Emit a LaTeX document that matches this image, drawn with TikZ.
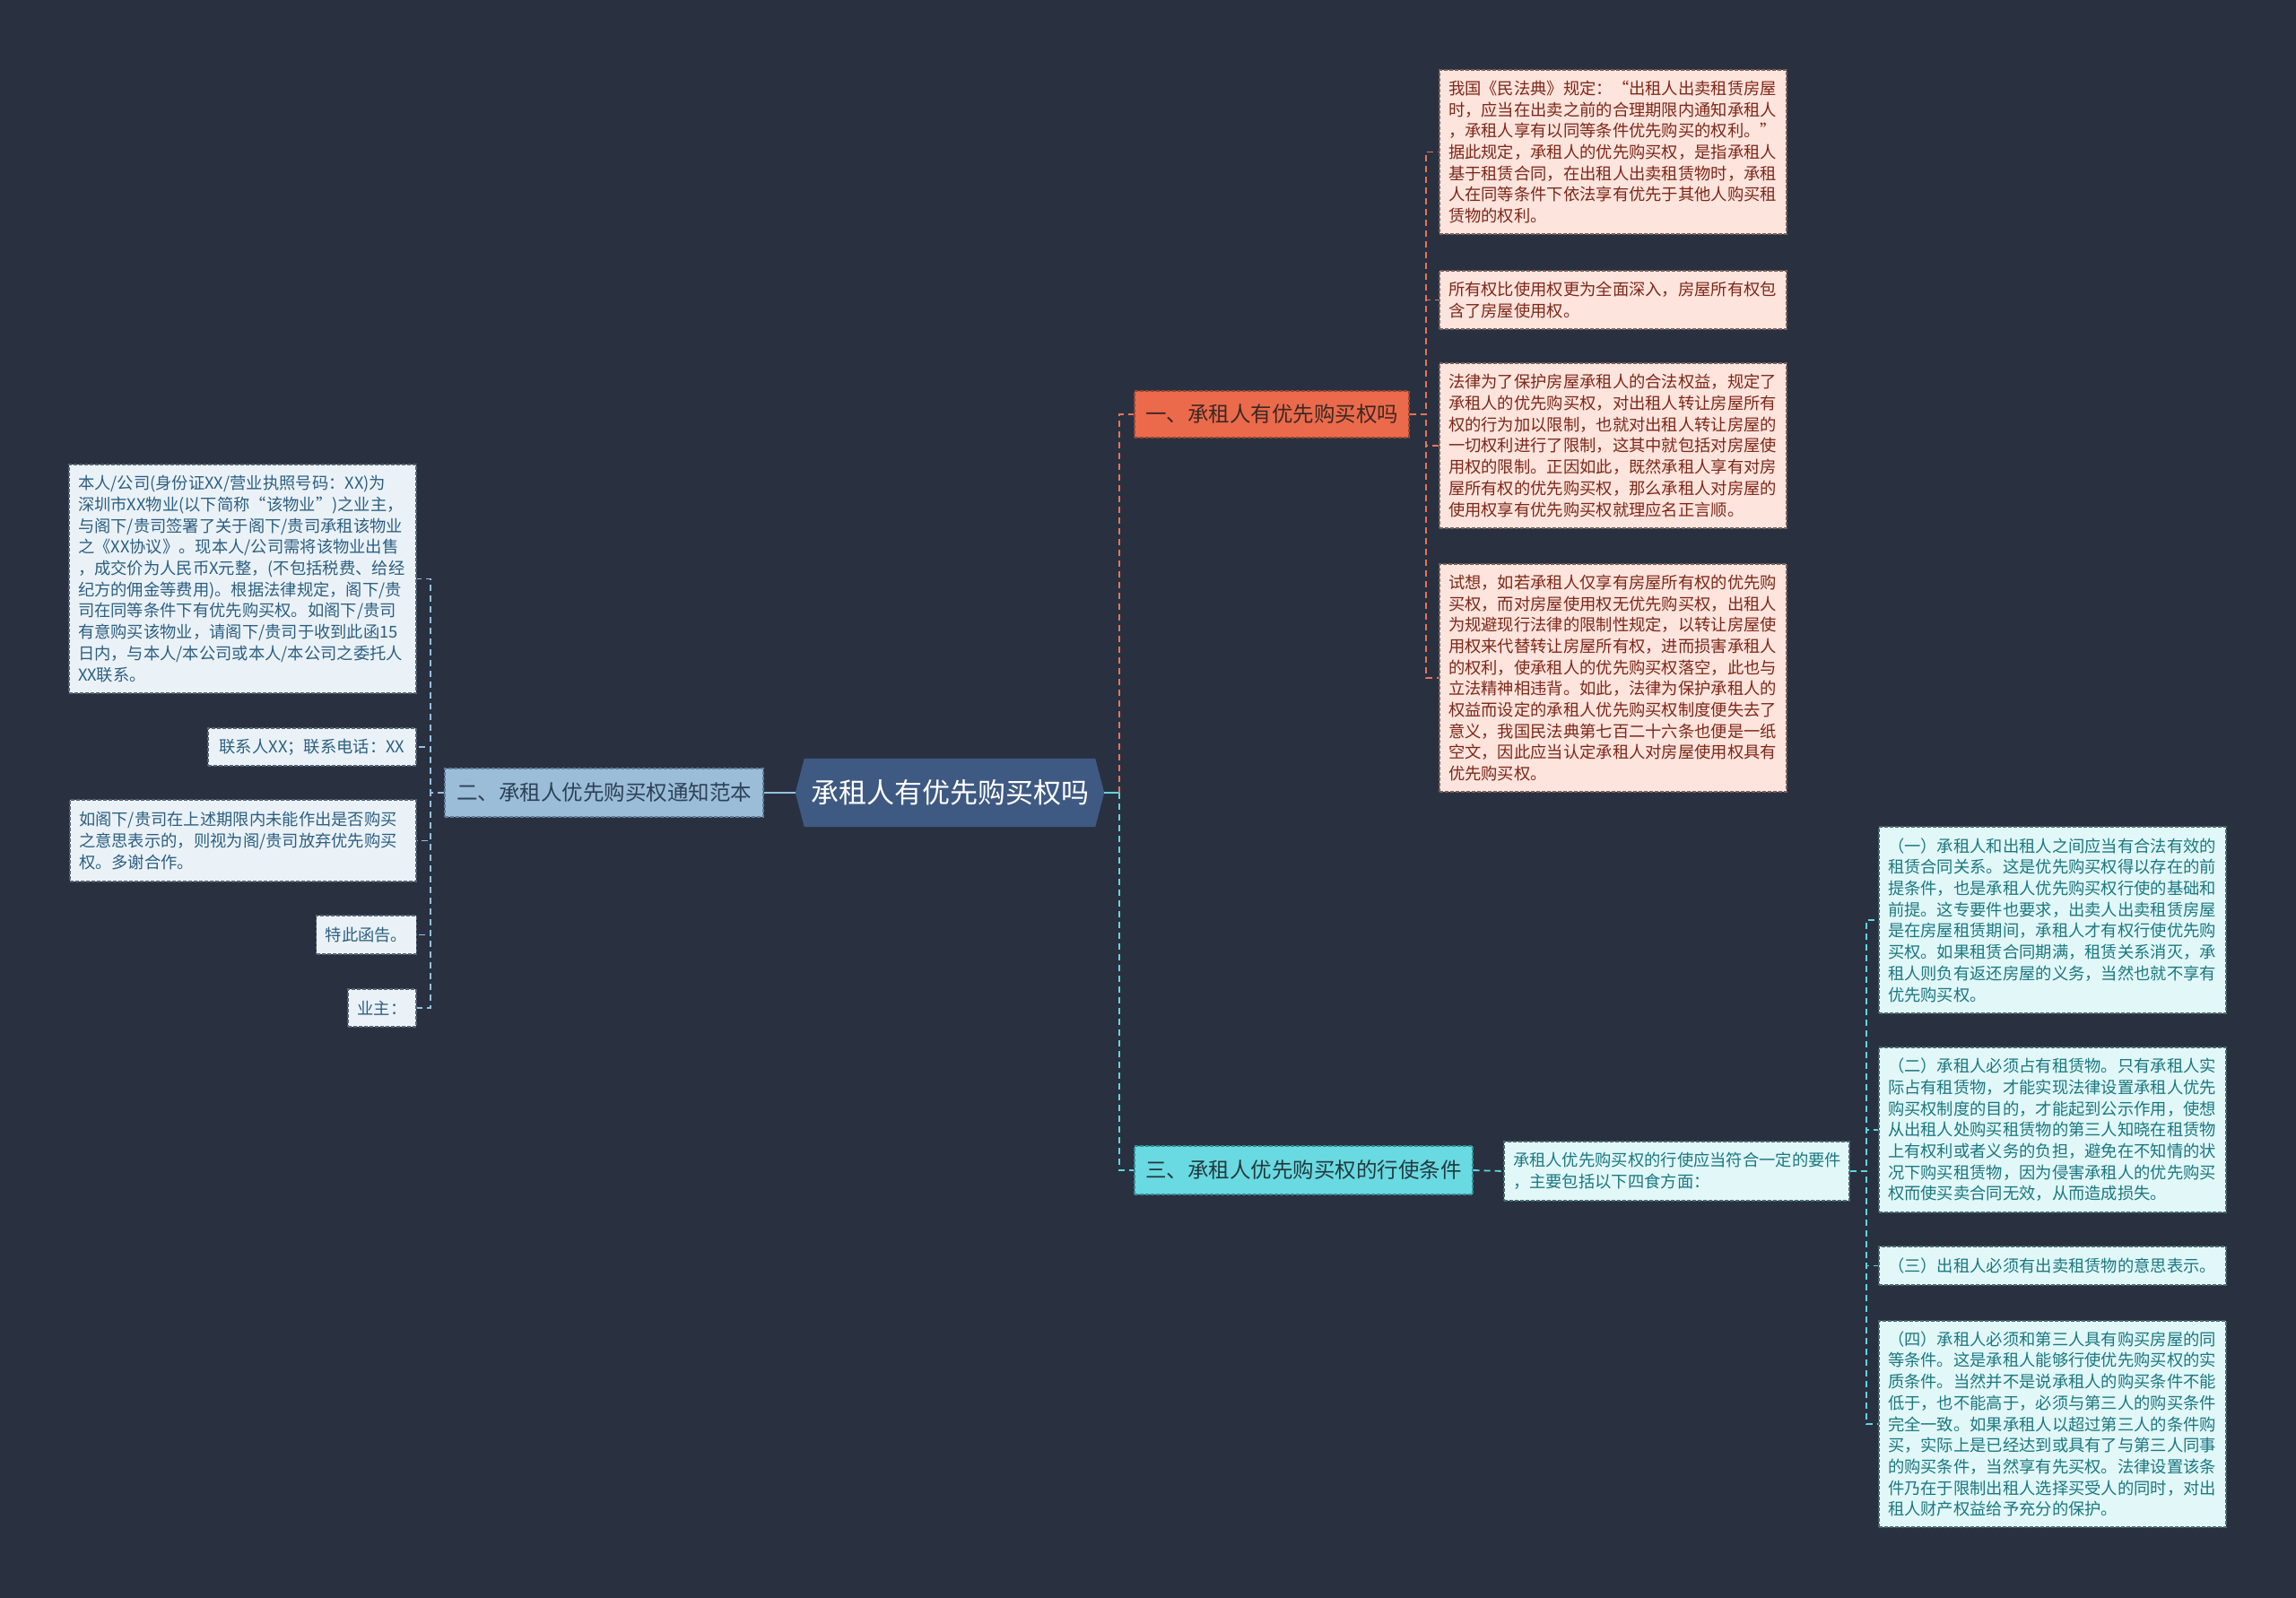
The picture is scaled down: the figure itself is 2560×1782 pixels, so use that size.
\documentclass[tikz,border=0pt]{standalone}
\usepackage{fontspec}
\setmainfont{Noto Sans CJK SC}
\usetikzlibrary{backgrounds}
\definecolor{bgc}{RGB}{41,49,64}
\definecolor{cfill}{RGB}{63,90,130}
\definecolor{ofill}{RGB}{235,106,75}
\definecolor{otext}{RGB}{60,40,35}
\definecolor{oborder}{RGB}{150,70,50}
\definecolor{bfill}{RGB}{155,189,215}
\definecolor{btext}{RGB}{45,65,89}
\definecolor{bborder}{RGB}{95,125,155}
\definecolor{tfill}{RGB}{105,218,226}
\definecolor{ttext}{RGB}{36,57,61}
\definecolor{tborder}{RGB}{50,140,150}
\definecolor{pinkfill}{RGB}{253,228,221}
\definecolor{pinktext}{RGB}{125,40,25}
\definecolor{pinkborder}{RGB}{120,95,90}
\definecolor{tealfill}{RGB}{225,247,248}
\definecolor{tealtext}{RGB}{28,120,128}
\definecolor{tealborder}{RGB}{70,105,110}
\definecolor{bluefill}{RGB}{234,242,247}
\definecolor{bluetext}{RGB}{45,95,130}
\definecolor{blueborder}{RGB}{85,100,115}
\definecolor{oline}{RGB}{232,115,90}
\definecolor{cline}{RGB}{100,212,222}
\definecolor{bline}{RGB}{150,192,222}
\begin{document}
\begin{tikzpicture}[x=1pt,y=-1pt,
  boxdash/.style={line width=1.3pt, dash pattern=on 4pt off 2pt},
  branchbox/.style={rectangle, inner xsep=8pt, inner ysep=0pt, boxdash, font=\fontsize{23.5}{28}\selectfont},
  brone/.style={branchbox, fill=ofill, draw=oborder, text=otext},
  brtwo/.style={branchbox, fill=bfill, draw=bborder, text=btext},
  brthree/.style={branchbox, fill=tfill, draw=tborder, text=ttext},
  leafbase/.style={rectangle, inner xsep=10pt, inner ysep=0pt, align=left, boxdash, font=\fontsize{18.3}{23.7}\selectfont},
  pinkleaf/.style={leafbase, fill=pinkfill, draw=pinkborder, text=pinktext},
  tealleaf/.style={leafbase, fill=tealfill, draw=tealborder, text=tealtext},
  blueleaf/.style={leafbase, fill=bluefill, draw=blueborder, text=bluetext},
  conndash/.style={line width=1.8pt, dash pattern=on 7pt off 5pt},
  odash/.style={conndash, draw=oline},
  cdash/.style={conndash, draw=cline},
  bdash/.style={conndash, draw=bline},
  csolid/.style={line width=2.2pt, draw=cline},
  bsolid/.style={line width=2.2pt, draw=bline}
]
\useasboundingbox (0,0) rectangle (2560,1782);

% central
\node[font=\fontsize{31}{36}\selectfont, text=white, minimum width=344pt, minimum height=76pt, inner sep=0pt] (c) at (1059,884) {承租人有优先购买权吗};
\begin{scope}[on background layer]
  \fill[bgc] (0,0) rectangle (2560,1782);
  \fill[cfill] (c.west) -- ([xshift=10pt]c.north west) -- ([xshift=-10pt]c.north east) -- (c.east) -- ([xshift=-10pt]c.south east) -- ([xshift=10pt]c.south west) -- cycle;
\end{scope}

% branches
\node[brone, minimum width=306pt, minimum height=52pt] (b1) at (1418,462) {一、承租人有优先购买权吗};
\node[brtwo, minimum width=355pt, minimum height=54pt] (b2) at (673.5,884) {二、承租人优先购买权通知范本};
\node[brthree, minimum width=377pt, minimum height=54pt] (b3) at (1453.5,1305) {三、承租人优先购买权的行使条件};

% branch 1 leaves
\node[pinkleaf, text width=367pt, minimum height=183pt] (p1) at (1798.5,169.5) {我国《民法典》规定：“出租人出卖租赁房屋\\时，应当在出卖之前的合理期限内通知承租人\\，承租人享有以同等条件优先购买的权利。”\\据此规定，承租人的优先购买权，是指承租人\\基于租赁合同，在出租人出卖租赁物时，承租\\人在同等条件下依法享有优先于其他人购买租\\赁物的权利。};
\node[pinkleaf, text width=367pt, minimum height=65pt] (p2) at (1798.5,334.5) {所有权比使用权更为全面深入，房屋所有权包\\含了房屋使用权。};
\node[pinkleaf, text width=367pt, minimum height=184pt] (p3) at (1798.5,497) {法律为了保护房屋承租人的合法权益，规定了\\承租人的优先购买权，对出租人转让房屋所有\\权的行为加以限制，也就对出租人转让房屋的\\一切权利进行了限制，这其中就包括对房屋使\\用权的限制。正因如此，既然承租人享有对房\\屋所有权的优先购买权，那么承租人对房屋的\\使用权享有优先购买权就理应名正言顺。};
\node[pinkleaf, text width=367pt, minimum height=254pt] (p4) at (1798.5,756) {试想，如若承租人仅享有房屋所有权的优先购\\买权，而对房屋使用权无优先购买权，出租人\\为规避现行法律的限制性规定，以转让房屋使\\用权来代替转让房屋所有权，进而损害承租人\\的权利，使承租人的优先购买权落空，此也与\\立法精神相违背。如此，法律为保护承租人的\\权益而设定的承租人优先购买权制度便失去了\\意义，我国民法典第七百二十六条也便是一纸\\空文，因此应当认定承租人对房屋使用权具有\\优先购买权。};

% branch 2 leaves
\node[blueleaf, text width=367pt, minimum height=255pt] (l1) at (270.5,645.5) {本人/公司(身份证XX/营业执照号码：XX)为\\深圳市XX物业(以下简称“该物业”)之业主，\\与阁下/贵司签署了关于阁下/贵司承租该物业\\之《XX协议》。现本人/公司需将该物业出售\\，成交价为人民币X元整，(不包括税费、给经\\纪方的佣金等费用)。根据法律规定，阁下/贵\\司在同等条件下有优先购买权。如阁下/贵司\\有意购买该物业，请阁下/贵司于收到此函15\\日内，与本人/本公司或本人/本公司之委托人\\XX联系。};
\node[blueleaf, minimum width=232pt, minimum height=42pt] (l2) at (348,833) {联系人XX；联系电话：XX};
\node[blueleaf, text width=366pt, minimum height=91pt] (l3) at (271,937.5) {如阁下/贵司在上述期限内未能作出是否购买\\之意思表示的，则视为阁/贵司放弃优先购买\\权。多谢合作。};
\node[blueleaf, minimum width=111pt, minimum height=43pt] (l4) at (408.5,1042.5) {特此函告。};
\node[blueleaf, minimum width=76pt, minimum height=42pt] (l5) at (426,1124) {业主：};

% branch 3 sub and leaves
\node[tealleaf, text width=365pt, minimum height=66pt] (s3) at (1869.5,1306) {承租人优先购买权的行使应当符合一定的要件\\，主要包括以下四食方面：};
\node[tealleaf, text width=367pt, minimum height=208pt] (t1) at (2288.5,1026) {（一）承租人和出租人之间应当有合法有效的\\租赁合同关系。这是优先购买权得以存在的前\\提条件，也是承租人优先购买权行使的基础和\\前提。这专要件也要求，出卖人出卖租赁房屋\\是在房屋租赁期间，承租人才有权行使优先购\\买权。如果租赁合同期满，租赁关系消灭，承\\租人则负有返还房屋的义务，当然也就不享有\\优先购买权。};
\node[tealleaf, text width=367pt, minimum height=184pt] (t2) at (2288.5,1260) {（二）承租人必须占有租赁物。只有承租人实\\际占有租赁物，才能实现法律设置承租人优先\\购买权制度的目的，才能起到公示作用，使想\\从出租人处购买租赁物的第三人知晓在租赁物\\上有权利或者义务的负担，避免在不知情的状\\况下购买租赁物，因为侵害承租人的优先购买\\权而使买卖合同无效，从而造成损失。};
\node[tealleaf, text width=367pt, minimum height=43pt] (t3) at (2288.5,1411.5) {（三）出租人必须有出卖租赁物的意思表示。};
\node[tealleaf, text width=367pt, minimum height=230pt] (t4) at (2288.5,1588) {（四）承租人必须和第三人具有购买房屋的同\\等条件。这是承租人能够行使优先购买权的实\\质条件。当然并不是说承租人的购买条件不能\\低于，也不能高于，必须与第三人的购买条件\\完全一致。如果承租人以超过第三人的条件购\\买，实际上是已经达到或具有了与第三人同事\\的购买条件，当然享有先买权。法律设置该条\\件乃在于限制出租人选择买受人的同时，对出\\租人财产权益给予充分的保护。};

% connectors from center
\coordinate (spc) at ([xshift=17pt]c.east);
\draw[csolid] (c.east) -- (spc);
\draw[odash] (spc) |- (b1.west);
\draw[cdash] (spc) |- (b3.west);
\draw[bsolid] (c.west) -- (b2.east);

% branch 1 connectors
\coordinate (sp1) at ([xshift=18pt]b1.east);
\foreach \n in {p1,p2,p3,p4} \draw[odash] (b1.east) -- (sp1) |- (\n.west);

% branch 2 connectors
\coordinate (sp2) at ([xshift=-15pt]b2.west);
\foreach \n in {l1,l2,l3,l4,l5} \draw[bdash] (b2.west) -- (sp2) |- (\n.east);

% branch 3 connectors
\draw[cdash] (b3.east) -- (s3.west);
\coordinate (sp3) at ([xshift=18pt]s3.east);
\foreach \n in {t1,t2,t3,t4} \draw[cdash] (s3.east) -- (sp3) |- (\n.west);
\end{tikzpicture}
\end{document}
